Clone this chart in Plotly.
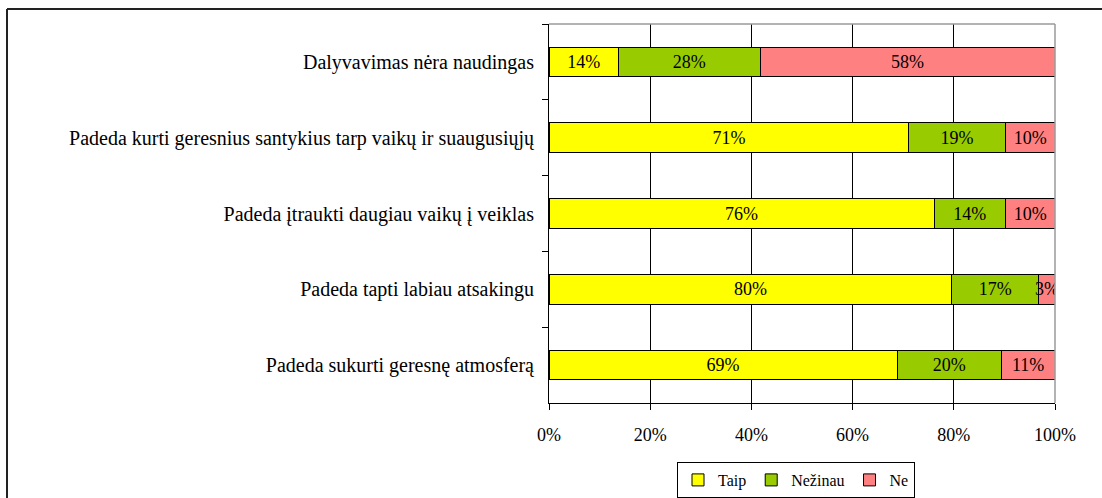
import plotly.graph_objects as go

categories = [
    "Dalyvavimas nėra naudingas",
    "Padeda kurti geresnius santykius tarp vaikų ir suaugusiųjų",
    "Padeda įtraukti daugiau vaikų į veiklas",
    "Padeda tapti labiau atsakingu",
    "Padeda sukurti geresnę atmosferą",
]
series_names = ["Taip", "Nežinau", "Ne"]
taip_values = [13.7, 71.1, 76.1, 79.6, 68.8]
nezinau_values = [28.0, 19.1, 14.1, 17.2, 20.6]
ne_values = [58.3, 9.8, 9.8, 3.2, 10.6]
taip_labels = [14, 71, 76, 80, 69]
nezinau_labels = [28, 19, 14, 17, 20]
ne_labels = [58, 10, 10, 3, 11]
x_tick_values = [0, 20, 40, 60, 80, 100]
x_tick_labels = ["0%", "20%", "40%", "60%", "80%", "100%"]

colors = ["#FFFF00", "#99CC00", "#FF8080"]
FONT = "Liberation Serif, Times New Roman, serif"

fig = go.Figure()
for name, vals, labs, col in zip(
    series_names,
    [taip_values, nezinau_values, ne_values],
    [taip_labels, nezinau_labels, ne_labels],
    colors,
):
    fig.add_trace(go.Bar(
        name=name,
        y=categories,
        x=vals,
        orientation="h",
        marker=dict(color=col, line=dict(color="black", width=1)),
        text=labs,
        texttemplate="%{text}%",
        textposition="inside",
        insidetextanchor="middle",
        constraintext="none",
        textangle=0,
        textfont=dict(family=FONT, size=18, color="black"),
        hoverinfo="skip",
    ))

# plot-area geometry in pixels
W, H = 1102, 498
L, R, T, B = 549, 1055, 24, 403
def px_x(p):
    return (p - L) / (R - L)
def px_y(p):
    return (B - p) / (B - T)

shapes = [
    # gray top and right plot borders
    dict(type="line", xref="paper", yref="paper", x0=0, x1=1, y0=1, y1=1,
         line=dict(color="#9a9a9a", width=1.5)),
    dict(type="line", xref="paper", yref="paper", x0=1, x1=1, y0=0, y1=1,
         line=dict(color="#9a9a9a", width=1.5)),
    # outer chart frame (top and left)
    dict(type="line", xref="paper", yref="paper", x0=px_x(7), x1=px_x(1102),
         y0=px_y(9), y1=px_y(9), line=dict(color="#222222", width=2)),
    dict(type="line", xref="paper", yref="paper", x0=px_x(7), x1=px_x(7),
         y0=px_y(498), y1=px_y(9), line=dict(color="#222222", width=2)),
]

fig.update_layout(
    barmode="stack",
    bargap=0.61,
    width=W, height=H,
    margin=dict(l=L, r=W - R, t=T, b=H - B, pad=0, autoexpand=False),
    paper_bgcolor="white",
    plot_bgcolor="white",
    font=dict(family=FONT, size=18, color="black"),
    shapes=shapes,
    legend=dict(
        orientation="h",
        x=px_x(796), xanchor="center",
        yref="container",
        y=1 - 462 / H, yanchor="top",
        bordercolor="black", borderwidth=1,
        font=dict(family=FONT, size=16, color="black"),
        itemwidth=30,
        traceorder="normal",
        tracegroupgap=0,
    ),
    xaxis=dict(
        range=[0, 100],
        tickvals=x_tick_values,
        ticktext=x_tick_labels,
        showgrid=True, gridcolor="black", gridwidth=1,
        showline=True, linecolor="black", linewidth=1,
        ticks="outside", ticklen=6, tickcolor="black",
        zeroline=False,
        ticklabelstandoff=9,
        tickfont=dict(family=FONT, size=18, color="black"),
    ),
    yaxis=dict(
        type="category",
        autorange="reversed",
        tickson="boundaries",
        ticks="outside", ticklen=6, tickcolor="black",
        showline=True, linecolor="black", linewidth=1,
        showgrid=False,
        ticklabelstandoff=10,
        tickfont=dict(family=FONT, size=20, color="black"),
    ),
)

fig.write_html("out.html", config={"displayModeBar": False},
               post_script="document.body.style.margin='0px';")
